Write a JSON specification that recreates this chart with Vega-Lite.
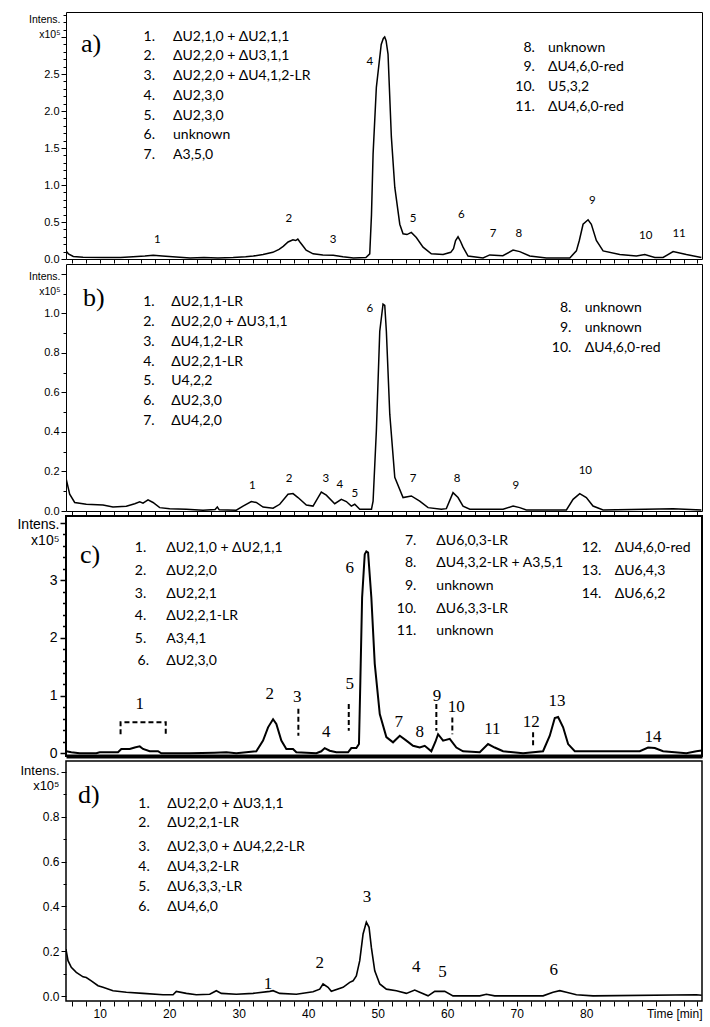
{
  "$schema": "https://vega.github.io/schema/vega-lite/v6.json",
  "padding": {"left": 15, "top": 8, "right": 5, "bottom": 5},
  "background": "white",
  "spacing": 5,
  "bounds": "flush",
  "datasets": {
    "trace": [
      {"p":"a","t":5.15,"v":0.11},{"p":"a","t":5.5,"v":0.07},{"p":"a","t":6.2,"v":0.035},{"p":"a","t":7.6,"v":0.025},{"p":"a","t":10.5,"v":0.02},{"p":"a","t":13.0,"v":0.02},{"p":"a","t":14.8,"v":0.03},{"p":"a","t":16.5,"v":0.04},{"p":"a","t":17.7,"v":0.05},{"p":"a","t":19.0,"v":0.04},{"p":"a","t":20.5,"v":0.03},{"p":"a","t":23.0,"v":0.015},{"p":"a","t":25.0,"v":0.02},{"p":"a","t":27.0,"v":0.015},{"p":"a","t":29.2,"v":0.02},{"p":"a","t":31.0,"v":0.03},{"p":"a","t":32.1,"v":0.04},{"p":"a","t":33.5,"v":0.06},{"p":"a","t":34.9,"v":0.09},{"p":"a","t":35.8,"v":0.13},{"p":"a","t":36.4,"v":0.17},{"p":"a","t":37.1,"v":0.23},{"p":"a","t":37.8,"v":0.26},{"p":"a","t":38.2,"v":0.25},{"p":"a","t":38.5,"v":0.27},{"p":"a","t":38.8,"v":0.23},{"p":"a","t":39.3,"v":0.17},{"p":"a","t":39.7,"v":0.12},{"p":"a","t":40.7,"v":0.07},{"p":"a","t":42.1,"v":0.055},{"p":"a","t":43.6,"v":0.05},{"p":"a","t":45.0,"v":0.03},{"p":"a","t":46.5,"v":0.015},{"p":"a","t":48.3,"v":0.02},{"p":"a","t":48.85,"v":0.07},{"p":"a","t":49.1,"v":0.6},{"p":"a","t":49.33,"v":1.42},{"p":"a","t":49.8,"v":2.32},{"p":"a","t":50.5,"v":2.9},{"p":"a","t":50.8,"v":2.98},{"p":"a","t":51.0,"v":3.0},{"p":"a","t":51.2,"v":2.95},{"p":"a","t":51.48,"v":2.77},{"p":"a","t":51.96,"v":1.65},{"p":"a","t":52.45,"v":0.97},{"p":"a","t":53.17,"v":0.47},{"p":"a","t":53.64,"v":0.34},{"p":"a","t":54.2,"v":0.33},{"p":"a","t":54.83,"v":0.36},{"p":"a","t":55.55,"v":0.29},{"p":"a","t":56.52,"v":0.16},{"p":"a","t":57.71,"v":0.07},{"p":"a","t":59.4,"v":0.06},{"p":"a","t":60.5,"v":0.09},{"p":"a","t":60.9,"v":0.14},{"p":"a","t":61.2,"v":0.25},{"p":"a","t":61.55,"v":0.3},{"p":"a","t":61.9,"v":0.24},{"p":"a","t":62.27,"v":0.16},{"p":"a","t":62.99,"v":0.04},{"p":"a","t":65.15,"v":0.015},{"p":"a","t":66.12,"v":0.055},{"p":"a","t":68.0,"v":0.045},{"p":"a","t":69.47,"v":0.12},{"p":"a","t":70.43,"v":0.1},{"p":"a","t":71.87,"v":0.04},{"p":"a","t":74.26,"v":0.015},{"p":"a","t":77.63,"v":0.015},{"p":"a","t":78.58,"v":0.11},{"p":"a","t":79.0,"v":0.25},{"p":"a","t":79.54,"v":0.47},{"p":"a","t":80.26,"v":0.53},{"p":"a","t":80.73,"v":0.47},{"p":"a","t":81.45,"v":0.25},{"p":"a","t":82.42,"v":0.11},{"p":"a","t":84.82,"v":0.06},{"p":"a","t":87.21,"v":0.04},{"p":"a","t":88.42,"v":0.06},{"p":"a","t":89.86,"v":0.02},{"p":"a","t":91.05,"v":0.02},{"p":"a","t":92.49,"v":0.1},{"p":"a","t":94.4,"v":0.06},{"p":"a","t":96.56,"v":0.02},

      {"p":"b","t":5.19,"v":0.16},{"p":"b","t":5.68,"v":0.085},{"p":"b","t":6.4,"v":0.043},{"p":"b","t":8.07,"v":0.034},{"p":"b","t":10.47,"v":0.03},{"p":"b","t":11.91,"v":0.02},{"p":"b","t":13.83,"v":0.024},{"p":"b","t":15.04,"v":0.037},{"p":"b","t":15.76,"v":0.046},{"p":"b","t":16.23,"v":0.04},{"p":"b","t":16.95,"v":0.056},{"p":"b","t":17.67,"v":0.043},{"p":"b","t":18.63,"v":0.017},{"p":"b","t":20.07,"v":0.012},{"p":"b","t":22.46,"v":0.009},{"p":"b","t":24.86,"v":0.004},{"p":"b","t":26.6,"v":0.008},{"p":"b","t":26.92,"v":0.02},{"p":"b","t":27.2,"v":0.006},{"p":"b","t":29.65,"v":0.004},{"p":"b","t":30.62,"v":0.025},{"p":"b","t":31.81,"v":0.048},{"p":"b","t":32.53,"v":0.043},{"p":"b","t":33.5,"v":0.02},{"p":"b","t":34.94,"v":0.014},{"p":"b","t":35.9,"v":0.034},{"p":"b","t":37.09,"v":0.085},{"p":"b","t":37.81,"v":0.088},{"p":"b","t":38.53,"v":0.068},{"p":"b","t":39.73,"v":0.03},{"p":"b","t":40.69,"v":0.025},{"p":"b","t":41.41,"v":0.068},{"p":"b","t":41.88,"v":0.096},{"p":"b","t":42.6,"v":0.08},{"p":"b","t":43.81,"v":0.037},{"p":"b","t":44.76,"v":0.059},{"p":"b","t":45.48,"v":0.048},{"p":"b","t":46.2,"v":0.025},{"p":"b","t":46.69,"v":0.034},{"p":"b","t":47.41,"v":0.009},{"p":"b","t":49.1,"v":0.009},{"p":"b","t":49.33,"v":0.05},{"p":"b","t":49.8,"v":0.405},{"p":"b","t":50.29,"v":0.91},{"p":"b","t":50.76,"v":1.047},{"p":"b","t":51.01,"v":1.04},{"p":"b","t":51.24,"v":0.91},{"p":"b","t":51.73,"v":0.49},{"p":"b","t":52.45,"v":0.17},{"p":"b","t":53.64,"v":0.068},{"p":"b","t":54.83,"v":0.076},{"p":"b","t":56.04,"v":0.05},{"p":"b","t":57.24,"v":0.017},{"p":"b","t":59.15,"v":0.009},{"p":"b","t":59.87,"v":0.012},{"p":"b","t":60.83,"v":0.093},{"p":"b","t":61.55,"v":0.068},{"p":"b","t":62.27,"v":0.025},{"p":"b","t":63.24,"v":0.009},{"p":"b","t":68.03,"v":0.009},{"p":"b","t":69.47,"v":0.025},{"p":"b","t":70.43,"v":0.017},{"p":"b","t":71.38,"v":0.005},{"p":"b","t":77.14,"v":0.005},{"p":"b","t":78.1,"v":0.059},{"p":"b","t":79.06,"v":0.088},{"p":"b","t":80.01,"v":0.068},{"p":"b","t":80.97,"v":0.025},{"p":"b","t":82.42,"v":0.005},{"p":"b","t":92.49,"v":0.012},{"p":"b","t":96.56,"v":0.005},

      {"p":"c","t":5.19,"v":0.035},{"p":"c","t":5.91,"v":0.017},{"p":"c","t":7.12,"v":0.0},{"p":"c","t":9.51,"v":0.0},{"p":"c","t":10.0,"v":0.017},{"p":"c","t":12.63,"v":0.017},{"p":"c","t":13.11,"v":0.075},{"p":"c","t":14.32,"v":0.075},{"p":"c","t":15.04,"v":0.1},{"p":"c","t":15.76,"v":0.12},{"p":"c","t":16.23,"v":0.075},{"p":"c","t":17.19,"v":0.035},{"p":"c","t":18.39,"v":0.035},{"p":"c","t":18.86,"v":0.0},{"p":"c","t":22.95,"v":0.0},{"p":"c","t":26.5,"v":0.01},{"p":"c","t":28.22,"v":0.017},{"p":"c","t":29.65,"v":0.0},{"p":"c","t":32.53,"v":0.035},{"p":"c","t":33.5,"v":0.22},{"p":"c","t":34.22,"v":0.45},{"p":"c","t":34.94,"v":0.59},{"p":"c","t":35.41,"v":0.51},{"p":"c","t":36.13,"v":0.22},{"p":"c","t":36.85,"v":0.075},{"p":"c","t":37.81,"v":0.075},{"p":"c","t":38.29,"v":0.017},{"p":"c","t":41.17,"v":0.0},{"p":"c","t":41.88,"v":0.035},{"p":"c","t":42.37,"v":0.09},{"p":"c","t":43.09,"v":0.045},{"p":"c","t":44.04,"v":0.017},{"p":"c","t":45.73,"v":0.017},{"p":"c","t":46.2,"v":0.09},{"p":"c","t":46.92,"v":0.09},{"p":"c","t":47.3,"v":0.16},{"p":"c","t":47.5,"v":1.26},{"p":"c","t":47.75,"v":2.7},{"p":"c","t":48.13,"v":3.45},{"p":"c","t":48.36,"v":3.5},{"p":"c","t":48.61,"v":3.48},{"p":"c","t":49.08,"v":2.7},{"p":"c","t":49.57,"v":1.55},{"p":"c","t":50.29,"v":0.68},{"p":"c","t":51.24,"v":0.28},{"p":"c","t":52.2,"v":0.19},{"p":"c","t":53.17,"v":0.305},{"p":"c","t":54.12,"v":0.22},{"p":"c","t":55.08,"v":0.13},{"p":"c","t":56.04,"v":0.1},{"p":"c","t":56.76,"v":0.13},{"p":"c","t":57.71,"v":0.035},{"p":"c","t":58.3,"v":0.2},{"p":"c","t":58.68,"v":0.33},{"p":"c","t":59.4,"v":0.22},{"p":"c","t":60.36,"v":0.25},{"p":"c","t":61.31,"v":0.1},{"p":"c","t":62.27,"v":0.035},{"p":"c","t":64.68,"v":0.017},{"p":"c","t":65.87,"v":0.16},{"p":"c","t":66.83,"v":0.1},{"p":"c","t":68.03,"v":0.035},{"p":"c","t":70.91,"v":0.0},{"p":"c","t":73.78,"v":0.035},{"p":"c","t":74.75,"v":0.305},{"p":"c","t":75.47,"v":0.61},{"p":"c","t":75.95,"v":0.63},{"p":"c","t":76.67,"v":0.45},{"p":"c","t":77.39,"v":0.16},{"p":"c","t":78.35,"v":0.035},{"p":"c","t":80.01,"v":0.035},{"p":"c","t":84.82,"v":0.035},{"p":"c","t":87.7,"v":0.035},{"p":"c","t":88.89,"v":0.1},{"p":"c","t":89.86,"v":0.09},{"p":"c","t":91.05,"v":0.035},{"p":"c","t":94.4,"v":0.0},{"p":"c","t":95.84,"v":0.035},{"p":"c","t":96.6,"v":0.05},

      {"p":"d","t":5.15,"v":0.21},{"p":"d","t":5.19,"v":0.2},{"p":"d","t":5.44,"v":0.158},{"p":"d","t":5.91,"v":0.128},{"p":"d","t":6.63,"v":0.106},{"p":"d","t":7.6,"v":0.086},{"p":"d","t":8.07,"v":0.083},{"p":"d","t":8.79,"v":0.068},{"p":"d","t":9.76,"v":0.046},{"p":"d","t":10.47,"v":0.039},{"p":"d","t":11.91,"v":0.024},{"p":"d","t":13.83,"v":0.017},{"p":"d","t":16.23,"v":0.012},{"p":"d","t":19.11,"v":0.006},{"p":"d","t":20.55,"v":0.006},{"p":"d","t":21.02,"v":0.021},{"p":"d","t":22.46,"v":0.012},{"p":"d","t":23.9,"v":0.006},{"p":"d","t":25.83,"v":0.008},{"p":"d","t":26.78,"v":0.024},{"p":"d","t":27.5,"v":0.012},{"p":"d","t":29.65,"v":0.008},{"p":"d","t":32.06,"v":0.012},{"p":"d","t":34.46,"v":0.021},{"p":"d","t":34.94,"v":0.024},{"p":"d","t":35.9,"v":0.012},{"p":"d","t":38.29,"v":0.008},{"p":"d","t":40.69,"v":0.019},{"p":"d","t":41.65,"v":0.031},{"p":"d","t":42.13,"v":0.054},{"p":"d","t":42.85,"v":0.039},{"p":"d","t":43.32,"v":0.021},{"p":"d","t":45.01,"v":0.039},{"p":"d","t":45.97,"v":0.061},{"p":"d","t":46.45,"v":0.068},{"p":"d","t":46.92,"v":0.09},{"p":"d","t":47.41,"v":0.158},{"p":"d","t":47.89,"v":0.277},{"p":"d","t":48.36,"v":0.33},{"p":"d","t":48.75,"v":0.307},{"p":"d","t":49.08,"v":0.217},{"p":"d","t":49.57,"v":0.113},{"p":"d","t":50.29,"v":0.054},{"p":"d","t":51.24,"v":0.031},{"p":"d","t":52.68,"v":0.024},{"p":"d","t":54.12,"v":0.012},{"p":"d","t":55.32,"v":0.027},{"p":"d","t":56.04,"v":0.017},{"p":"d","t":57.24,"v":0.001},{"p":"d","t":58.2,"v":0.021},{"p":"d","t":59.64,"v":0.021},{"p":"d","t":60.83,"v":0.001},{"p":"d","t":64.68,"v":0.001},{"p":"d","t":65.63,"v":0.008},{"p":"d","t":66.83,"v":0.001},{"p":"d","t":73.78,"v":0.001},{"p":"d","t":75.22,"v":0.017},{"p":"d","t":76.19,"v":0.024},{"p":"d","t":77.14,"v":0.017},{"p":"d","t":78.58,"v":0.006},{"p":"d","t":80.97,"v":0.001},{"p":"d","t":95.84,"v":0.006},{"p":"d","t":96.6,"v":0.004}
    ],
    "dash": [
      {"id":"b1","o":1,"t":13.0,"v":0.33},{"id":"b1","o":2,"t":13.0,"v":0.54},{"id":"b1","o":3,"t":19.5,"v":0.54},{"id":"b1","o":4,"t":19.5,"v":0.33},
      {"id":"d3","o":1,"t":38.58,"v":0.77},{"id":"d3","o":2,"t":38.58,"v":0.305},
      {"id":"d5","o":1,"t":45.83,"v":0.855},{"id":"d5","o":2,"t":45.83,"v":0.39},
      {"id":"d9","o":1,"t":58.43,"v":0.855},{"id":"d9","o":2,"t":58.43,"v":0.39},
      {"id":"d10","o":1,"t":60.73,"v":0.62},{"id":"d10","o":2,"t":60.73,"v":0.33},
      {"id":"d12","o":1,"t":72.35,"v":0.364},{"id":"d12","o":2,"t":72.35,"v":0.13}
    ],
    "ann": [
      {"p":"a","k":"tag","t":7.3,"v":2.9,"s":"a)"},
      {"p":"a","k":"num","t":17.96,"v":3.004,"s":"1."},{"p":"a","k":"num","t":17.96,"v":2.747,"s":"2."},{"p":"a","k":"num","t":17.96,"v":2.477,"s":"3."},{"p":"a","k":"num","t":17.96,"v":2.207,"s":"4."},{"p":"a","k":"num","t":17.96,"v":1.936,"s":"5."},{"p":"a","k":"num","t":17.96,"v":1.676,"s":"6."},{"p":"a","k":"num","t":17.96,"v":1.409,"s":"7."},
      {"p":"a","k":"item","t":20.55,"v":3.004,"s":"ΔU2,1,0 + ΔU2,1,1"},{"p":"a","k":"item","t":20.55,"v":2.747,"s":"ΔU2,2,0 + ΔU3,1,1"},{"p":"a","k":"item","t":20.55,"v":2.477,"s":"ΔU2,2,0  + ΔU4,1,2-LR"},{"p":"a","k":"item","t":20.55,"v":2.207,"s":"ΔU2,3,0"},{"p":"a","k":"item","t":20.55,"v":1.936,"s":"ΔU2,3,0"},{"p":"a","k":"item","t":20.55,"v":1.676,"s":"unknown"},{"p":"a","k":"item","t":20.55,"v":1.409,"s":"A3,5,0"},
      {"p":"a","k":"num","t":72.6,"v":2.847,"s":"8."},{"p":"a","k":"num","t":72.6,"v":2.59,"s":"9."},{"p":"a","k":"num","t":72.6,"v":2.32,"s":"10."},{"p":"a","k":"num","t":72.6,"v":2.058,"s":"11."},
      {"p":"a","k":"item","t":74.5,"v":2.847,"s":"unknown"},{"p":"a","k":"item","t":74.5,"v":2.59,"s":"ΔU4,6,0-red"},{"p":"a","k":"item","t":74.5,"v":2.32,"s":"U5,3,2"},{"p":"a","k":"item","t":74.5,"v":2.058,"s":"ΔU4,6,0-red"},
      {"p":"a","k":"pk","t":18.29,"v":0.26,"s":"1"},{"p":"a","k":"pk","t":37.19,"v":0.54,"s":"2"},{"p":"a","k":"pk","t":43.57,"v":0.26,"s":"3"},{"p":"a","k":"pk","t":48.85,"v":2.66,"s":"4"},{"p":"a","k":"pk","t":55.08,"v":0.54,"s":"5"},{"p":"a","k":"pk","t":62.03,"v":0.59,"s":"6"},{"p":"a","k":"pk","t":66.59,"v":0.34,"s":"7"},{"p":"a","k":"pk","t":70.29,"v":0.34,"s":"8"},{"p":"a","k":"pk","t":80.88,"v":0.79,"s":"9"},{"p":"a","k":"pk","t":88.56,"v":0.31,"s":"10"},{"p":"a","k":"pk","t":93.35,"v":0.34,"s":"11"},

      {"p":"b","k":"tag","t":7.6,"v":1.077,"s":"b)"},
      {"p":"b","k":"num","t":17.91,"v":1.056,"s":"1."},{"p":"b","k":"num","t":17.91,"v":0.954,"s":"2."},{"p":"b","k":"num","t":17.91,"v":0.853,"s":"3."},{"p":"b","k":"num","t":17.91,"v":0.752,"s":"4."},{"p":"b","k":"num","t":17.91,"v":0.656,"s":"5."},{"p":"b","k":"num","t":17.91,"v":0.557,"s":"6."},{"p":"b","k":"num","t":17.91,"v":0.456,"s":"7."},
      {"p":"b","k":"item","t":20.3,"v":1.056,"s":"ΔU2,1,1-LR"},{"p":"b","k":"item","t":20.3,"v":0.954,"s":"ΔU2,2,0 + ΔU3,1,1"},{"p":"b","k":"item","t":20.3,"v":0.853,"s":"ΔU4,1,2-LR"},{"p":"b","k":"item","t":20.3,"v":0.752,"s":"ΔU2,2,1-LR"},{"p":"b","k":"item","t":20.3,"v":0.656,"s":"U4,2,2"},{"p":"b","k":"item","t":20.3,"v":0.557,"s":"ΔU2,3,0"},{"p":"b","k":"item","t":20.3,"v":0.456,"s":"ΔU4,2,0"},
      {"p":"b","k":"num","t":77.86,"v":1.025,"s":"8."},{"p":"b","k":"num","t":77.86,"v":0.924,"s":"9."},{"p":"b","k":"num","t":77.86,"v":0.823,"s":"10."},
      {"p":"b","k":"item","t":79.78,"v":1.025,"s":"unknown"},{"p":"b","k":"item","t":79.78,"v":0.924,"s":"unknown"},{"p":"b","k":"item","t":79.78,"v":0.823,"s":"ΔU4,6,0-red"},
      {"p":"b","k":"pk","t":31.96,"v":0.127,"s":"1"},{"p":"b","k":"pk","t":37.24,"v":0.16,"s":"2"},{"p":"b","k":"pk","t":42.52,"v":0.16,"s":"3"},{"p":"b","k":"pk","t":44.53,"v":0.13,"s":"4"},{"p":"b","k":"pk","t":46.69,"v":0.085,"s":"5"},{"p":"b","k":"pk","t":48.85,"v":1.02,"s":"6"},{"p":"b","k":"pk","t":55.08,"v":0.16,"s":"7"},{"p":"b","k":"pk","t":61.4,"v":0.16,"s":"8"},{"p":"b","k":"pk","t":69.86,"v":0.127,"s":"9"},{"p":"b","k":"pk","t":79.87,"v":0.2,"s":"10"},

      {"p":"c","k":"tag","t":7.17,"v":3.44,"s":"c)"},
      {"p":"c","k":"num","t":16.7,"v":3.553,"s":"1."},{"p":"c","k":"num","t":16.7,"v":3.165,"s":"2."},{"p":"c","k":"num","t":16.7,"v":2.76,"s":"3."},{"p":"c","k":"num","t":16.7,"v":2.385,"s":"4."},{"p":"c","k":"num","t":16.7,"v":1.98,"s":"5."},{"p":"c","k":"num","t":17.1,"v":1.605,"s":"6."},
      {"p":"c","k":"item","t":19.58,"v":3.553,"s":"ΔU2,1,0 + ΔU2,1,1"},{"p":"c","k":"item","t":19.58,"v":3.165,"s":"ΔU2,2,0"},{"p":"c","k":"item","t":19.58,"v":2.76,"s":"ΔU2,2,1"},{"p":"c","k":"item","t":19.58,"v":2.385,"s":"ΔU2,2,1-LR"},{"p":"c","k":"item","t":19.58,"v":1.98,"s":"A3,4,1"},{"p":"c","k":"item","t":19.58,"v":1.605,"s":"ΔU2,3,0"},
      {"p":"c","k":"num","t":55.56,"v":3.685,"s":"7."},{"p":"c","k":"num","t":55.56,"v":3.29,"s":"8."},{"p":"c","k":"num","t":55.56,"v":2.905,"s":"9."},{"p":"c","k":"num","t":55.56,"v":2.5,"s":"10."},{"p":"c","k":"num","t":55.56,"v":2.114,"s":"11."},
      {"p":"c","k":"item","t":58.43,"v":3.685,"s":"ΔU6,0,3-LR"},{"p":"c","k":"item","t":58.43,"v":3.29,"s":"ΔU4,3,2-LR + A3,5,1"},{"p":"c","k":"item","t":58.43,"v":2.905,"s":"unknown"},{"p":"c","k":"item","t":58.43,"v":2.5,"s":"ΔU6,3,3-LR"},{"p":"c","k":"item","t":58.43,"v":2.114,"s":"unknown"},
      {"p":"c","k":"num","t":82.17,"v":3.553,"s":"12."},{"p":"c","k":"num","t":82.17,"v":3.154,"s":"13."},{"p":"c","k":"num","t":82.17,"v":2.76,"s":"14."},
      {"p":"c","k":"item","t":84.1,"v":3.553,"s":"ΔU4,6,0-red"},{"p":"c","k":"item","t":84.1,"v":3.154,"s":"ΔU6,4,3"},{"p":"c","k":"item","t":84.1,"v":2.76,"s":"ΔU6,6,2"},
      {"p":"c","k":"pks","t":15.76,"v":0.854,"s":"1"},{"p":"c","k":"pks","t":34.46,"v":1.03,"s":"2"},{"p":"c","k":"pks","t":38.43,"v":0.97,"s":"3"},{"p":"c","k":"pks","t":42.6,"v":0.364,"s":"4"},{"p":"c","k":"pks","t":45.97,"v":1.2,"s":"5"},{"p":"c","k":"pks","t":45.97,"v":3.22,"s":"6"},{"p":"c","k":"pks","t":53.02,"v":0.538,"s":"7"},{"p":"c","k":"pks","t":56.04,"v":0.364,"s":"8"},{"p":"c","k":"pks","t":58.53,"v":1.0,"s":"9"},{"p":"c","k":"pks","t":61.31,"v":0.8,"s":"10"},{"p":"c","k":"pks","t":66.49,"v":0.42,"s":"11"},{"p":"c","k":"pks","t":72.1,"v":0.538,"s":"12"},{"p":"c","k":"pks","t":75.8,"v":0.91,"s":"13"},{"p":"c","k":"pks","t":89.6,"v":0.277,"s":"14"},

      {"p":"d","k":"tag","t":6.88,"v":0.897,"s":"d)"},
      {"p":"d","k":"num","t":17.2,"v":0.857,"s":"1."},{"p":"d","k":"num","t":17.2,"v":0.771,"s":"2."},{"p":"d","k":"num","t":17.2,"v":0.664,"s":"3."},{"p":"d","k":"num","t":17.2,"v":0.575,"s":"4."},{"p":"d","k":"num","t":17.2,"v":0.485,"s":"5."},{"p":"d","k":"num","t":17.2,"v":0.396,"s":"6."},
      {"p":"d","k":"item","t":19.73,"v":0.857,"s":"ΔU2,2,0 + ΔU3,1,1"},{"p":"d","k":"item","t":19.73,"v":0.771,"s":"ΔU2,2,1-LR"},{"p":"d","k":"item","t":19.73,"v":0.664,"s":"ΔU2,3,0 + ΔU4,2,2-LR"},{"p":"d","k":"item","t":19.73,"v":0.575,"s":"ΔU4,3,2-LR"},{"p":"d","k":"item","t":19.73,"v":0.485,"s":"ΔU6,3,3,-LR"},{"p":"d","k":"item","t":19.73,"v":0.396,"s":"ΔU4,6,0"},
      {"p":"d","k":"pks","t":34.22,"v":0.054,"s":"1"},{"p":"d","k":"pks","t":41.65,"v":0.146,"s":"2"},{"p":"d","k":"pks","t":48.46,"v":0.44,"s":"3"},{"p":"d","k":"pks","t":55.55,"v":0.128,"s":"4"},{"p":"d","k":"pks","t":59.3,"v":0.106,"s":"5"},{"p":"d","k":"pks","t":75.32,"v":0.116,"s":"6"}
    ]
  },
  "vconcat": [
    {
      "width": 636, "height": 247,
      "view": {"stroke": "black", "strokeWidth": 1},
      "encoding": {
        "x": {"field": "t", "type": "quantitative", "scale": {"domain": [5.15, 96.65], "nice": false, "zero": false},
              "axis": {"values": [6,8,10,12,14,16,18,20,22,24,26,28,30,32,34,36,38,40,42,44,46,48,50,52,54,56,58,60,62,64,66,68,70,72,74,76,78,80,82,84,86,88,90,92,94,96], "labels": false, "domain": false, "tickSize": 4, "title": null}},
        "y": {"field": "v", "type": "quantitative", "scale": {"domain": [0, 3.338], "nice": false, "zero": false},
              "axis": {"values": [0,0.1,0.2,0.3,0.4,0.5,0.6,0.7,0.8,0.9,1,1.1,1.2,1.3,1.4,1.5,1.6,1.7,1.8,1.9,2,2.1,2.2,2.3,2.4,2.5,2.6,2.7,2.8,2.9,3,3.1,3.2,3.3],
                       "labelExpr": "datum.value <= 2.55 && abs(datum.value*2 - round(datum.value*2)) < 0.01 ? format(datum.value, '.1f') : ''",
                       "tickSize": {"condition": {"test": "abs(datum.value*2 - round(datum.value*2)) < 0.01", "value": 5}, "value": 3},
                       "domain": false, "labelFontSize": 11, "labelPadding": 2,
                       "title": ["Intens.", "x10⁵"], "titleAngle": 0, "titleAlign": "right", "titleBaseline": "top", "titleX": -6, "titleY": 2, "titleFontSize": 10.5, "titleLineHeight": 15}}
      },
      "layer": [
        {"data": {"name": "trace"}, "transform": [{"filter": "datum.p == 'a'"}], "mark": {"type": "line", "color": "black", "strokeWidth": 1.5, "clip": true}},
        {"data": {"name": "ann"}, "transform": [{"filter": "datum.p == 'a' && datum.k == 'tag'"}], "mark": {"type": "text", "align": "left", "baseline": "middle", "font": "Liberation Serif", "fontSize": 26, "color": "black"}, "encoding": {"text": {"field": "s"}}},
        {"data": {"name": "ann"}, "transform": [{"filter": "datum.p == 'a' && datum.k == 'num'"}], "mark": {"type": "text", "align": "right", "baseline": "middle", "font": "Lato", "fontSize": 14, "color": "black"}, "encoding": {"text": {"field": "s"}}},
        {"data": {"name": "ann"}, "transform": [{"filter": "datum.p == 'a' && datum.k == 'item'"}], "mark": {"type": "text", "align": "left", "baseline": "middle", "font": "Lato", "fontSize": 14, "color": "black"}, "encoding": {"text": {"field": "s"}}},
        {"data": {"name": "ann"}, "transform": [{"filter": "datum.p == 'a' && datum.k == 'pk'"}], "mark": {"type": "text", "align": "center", "baseline": "middle", "font": "Lato", "fontSize": 11.5, "color": "black"}, "encoding": {"text": {"field": "s"}}}
      ]
    },
    {
      "width": 636, "height": 247,
      "view": {"stroke": "black", "strokeWidth": 1},
      "encoding": {
        "x": {"field": "t", "type": "quantitative", "scale": {"domain": [5.15, 96.65], "nice": false, "zero": false},
              "axis": {"values": [6,8,10,12,14,16,18,20,22,24,26,28,30,32,34,36,38,40,42,44,46,48,50,52,54,56,58,60,62,64,66,68,70,72,74,76,78,80,82,84,86,88,90,92,94,96], "labels": false, "domain": false, "tickSize": 4, "title": null}},
        "y": {"field": "v", "type": "quantitative", "scale": {"domain": [0, 1.25], "nice": false, "zero": false},
              "axis": {"values": [0,0.1,0.2,0.3,0.4,0.5,0.6,0.7,0.8,0.9,1,1.1,1.2],
                       "labelExpr": "datum.value <= 1.05 && abs(datum.value*5 - round(datum.value*5)) < 0.01 ? format(datum.value, '.1f') : ''",
                       "tickSize": {"condition": {"test": "abs(datum.value*5 - round(datum.value*5)) < 0.01", "value": 5}, "value": 3},
                       "domain": false, "labelFontSize": 11, "labelPadding": 2,
                       "title": ["Intens.", "x10⁵"], "titleAngle": 0, "titleAlign": "right", "titleBaseline": "top", "titleX": -6, "titleY": 7, "titleFontSize": 10.5, "titleLineHeight": 15}}
      },
      "layer": [
        {"data": {"name": "trace"}, "transform": [{"filter": "datum.p == 'b'"}], "mark": {"type": "line", "color": "black", "strokeWidth": 1.5, "clip": true}},
        {"data": {"name": "ann"}, "transform": [{"filter": "datum.p == 'b' && datum.k == 'tag'"}], "mark": {"type": "text", "align": "left", "baseline": "middle", "font": "Liberation Serif", "fontSize": 26, "color": "black"}, "encoding": {"text": {"field": "s"}}},
        {"data": {"name": "ann"}, "transform": [{"filter": "datum.p == 'b' && datum.k == 'num'"}], "mark": {"type": "text", "align": "right", "baseline": "middle", "font": "Lato", "fontSize": 14, "color": "black"}, "encoding": {"text": {"field": "s"}}},
        {"data": {"name": "ann"}, "transform": [{"filter": "datum.p == 'b' && datum.k == 'item'"}], "mark": {"type": "text", "align": "left", "baseline": "middle", "font": "Lato", "fontSize": 14, "color": "black"}, "encoding": {"text": {"field": "s"}}},
        {"data": {"name": "ann"}, "transform": [{"filter": "datum.p == 'b' && datum.k == 'pk'"}], "mark": {"type": "text", "align": "center", "baseline": "middle", "font": "Lato", "fontSize": 11.5, "color": "black"}, "encoding": {"text": {"field": "s"}}}
      ]
    },
    {
      "width": 636, "height": 240,
      "view": {"stroke": "black", "strokeWidth": 2},
      "encoding": {
        "x": {"field": "t", "type": "quantitative", "scale": {"domain": [5.15, 96.65], "nice": false, "zero": false},
              "axis": {"values": [6,8,10,12,14,16,18,20,22,24,26,28,30,32,34,36,38,40,42,44,46,48,50,52,54,56,58,60,62,64,66,68,70,72,74,76,78,80,82,84,86,88,90,92,94,96], "labels": false, "domain": true, "domainWidth": 4, "domainColor": "black", "tickSize": 0, "title": null}},
        "y": {"field": "v", "type": "quantitative", "scale": {"domain": [-0.047, 4.113], "nice": false, "zero": false},
              "axis": {"values": [0,0.2,0.4,0.6,0.8,1,1.2,1.4,1.6,1.8,2,2.2,2.4,2.6,2.8,3,3.2,3.4,3.6,3.8,4],
                       "labelExpr": "datum.value <= 3.05 && abs(datum.value - round(datum.value)) < 0.01 ? format(datum.value, 'd') : ''",
                       "tickSize": {"condition": {"test": "abs(datum.value - round(datum.value)) < 0.01", "value": 6}, "value": 3.5},
                       "tickWidth": 1.5,
                       "domain": false, "labelFontSize": 14, "labelPadding": 3,
                       "title": ["Intens.", "x10⁵"], "titleAngle": 0, "titleAlign": "right", "titleBaseline": "top", "titleX": -7, "titleY": 1, "titleFontSize": 14, "titleLineHeight": 16}}
      },
      "layer": [
        {"data": {"name": "trace"}, "transform": [{"filter": "datum.p == 'c'"}], "mark": {"type": "line", "color": "black", "strokeWidth": 2, "clip": true}},
        {"data": {"name": "dash"}, "mark": {"type": "line", "color": "black", "strokeWidth": 2, "strokeDash": [5, 3]}, "encoding": {"detail": {"field": "id"}, "order": {"field": "o"}}},
        {"data": {"name": "ann"}, "transform": [{"filter": "datum.p == 'c' && datum.k == 'tag'"}], "mark": {"type": "text", "align": "left", "baseline": "middle", "font": "Liberation Serif", "fontSize": 26, "color": "black"}, "encoding": {"text": {"field": "s"}}},
        {"data": {"name": "ann"}, "transform": [{"filter": "datum.p == 'c' && datum.k == 'num'"}], "mark": {"type": "text", "align": "right", "baseline": "middle", "font": "Lato", "fontSize": 14, "color": "black"}, "encoding": {"text": {"field": "s"}}},
        {"data": {"name": "ann"}, "transform": [{"filter": "datum.p == 'c' && datum.k == 'item'"}], "mark": {"type": "text", "align": "left", "baseline": "middle", "font": "Lato", "fontSize": 14, "color": "black"}, "encoding": {"text": {"field": "s"}}},
        {"data": {"name": "ann"}, "transform": [{"filter": "datum.p == 'c' && datum.k == 'pks'"}], "mark": {"type": "text", "align": "center", "baseline": "middle", "font": "Liberation Serif", "fontSize": 17, "color": "black"}, "encoding": {"text": {"field": "s"}}}
      ]
    },
    {
      "width": 636, "height": 240,
      "view": {"stroke": "black", "strokeWidth": 1.5},
      "encoding": {
        "x": {"field": "t", "type": "quantitative", "scale": {"domain": [5.15, 96.65], "nice": false, "zero": false},
              "axis": {"values": [6,8,10,12,14,16,18,20,22,24,26,28,30,32,34,36,38,40,42,44,46,48,50,52,54,56,58,60,62,64,66,68,70,72,74,76,78,80,82,84,86,88,90,92,94,96],
                       "labelExpr": "datum.value % 10 == 0 && datum.value <= 80 ? datum.value : ''",
                       "labelFontSize": 12, "labelPadding": 2, "domain": false, "tickSize": 5,
                       "title": "Time [min]", "titleAngle": 0, "titleAlign": "right", "titleBaseline": "top", "titleX": 636, "titleY": 7, "titleFontSize": 12}},
        "y": {"field": "v", "type": "quantitative", "scale": {"domain": [-0.022, 1.049], "nice": false, "zero": false},
              "axis": {"values": [0,0.1,0.2,0.3,0.4,0.5,0.6,0.7,0.8,0.9,1],
                       "labelExpr": "datum.value <= 0.85 && abs(datum.value*5 - round(datum.value*5)) < 0.01 ? format(datum.value, '.1f') : ''",
                       "tickSize": {"condition": {"test": "abs(datum.value*5 - round(datum.value*5)) < 0.01", "value": 5}, "value": 3},
                       "domain": false, "labelFontSize": 12, "labelPadding": 2,
                       "title": ["Intens.", "x10⁵"], "titleAngle": 0, "titleAlign": "right", "titleBaseline": "top", "titleX": -7, "titleY": 3, "titleFontSize": 13, "titleLineHeight": 15}}
      },
      "layer": [
        {"data": {"name": "trace"}, "transform": [{"filter": "datum.p == 'd'"}], "mark": {"type": "line", "color": "black", "strokeWidth": 1.6, "clip": true}},
        {"data": {"name": "ann"}, "transform": [{"filter": "datum.p == 'd' && datum.k == 'tag'"}], "mark": {"type": "text", "align": "left", "baseline": "middle", "font": "Liberation Serif", "fontSize": 26, "color": "black"}, "encoding": {"text": {"field": "s"}}},
        {"data": {"name": "ann"}, "transform": [{"filter": "datum.p == 'd' && datum.k == 'num'"}], "mark": {"type": "text", "align": "right", "baseline": "middle", "font": "Lato", "fontSize": 14, "color": "black"}, "encoding": {"text": {"field": "s"}}},
        {"data": {"name": "ann"}, "transform": [{"filter": "datum.p == 'd' && datum.k == 'item'"}], "mark": {"type": "text", "align": "left", "baseline": "middle", "font": "Lato", "fontSize": 14, "color": "black"}, "encoding": {"text": {"field": "s"}}},
        {"data": {"name": "ann"}, "transform": [{"filter": "datum.p == 'd' && datum.k == 'pks'"}], "mark": {"type": "text", "align": "center", "baseline": "middle", "font": "Liberation Serif", "fontSize": 17, "color": "black"}, "encoding": {"text": {"field": "s"}}}
      ]
    }
  ],
  "config": {
    "axis": {"labelFont": "Liberation Sans", "labelColor": "black", "tickColor": "black", "tickWidth": 1, "domainColor": "black", "titleFont": "Liberation Sans", "titleFontWeight": "normal", "titleColor": "black", "labelOverlap": false, "labelFlush": false, "grid": false},
    "view": {"stroke": "black"}
  }
}
